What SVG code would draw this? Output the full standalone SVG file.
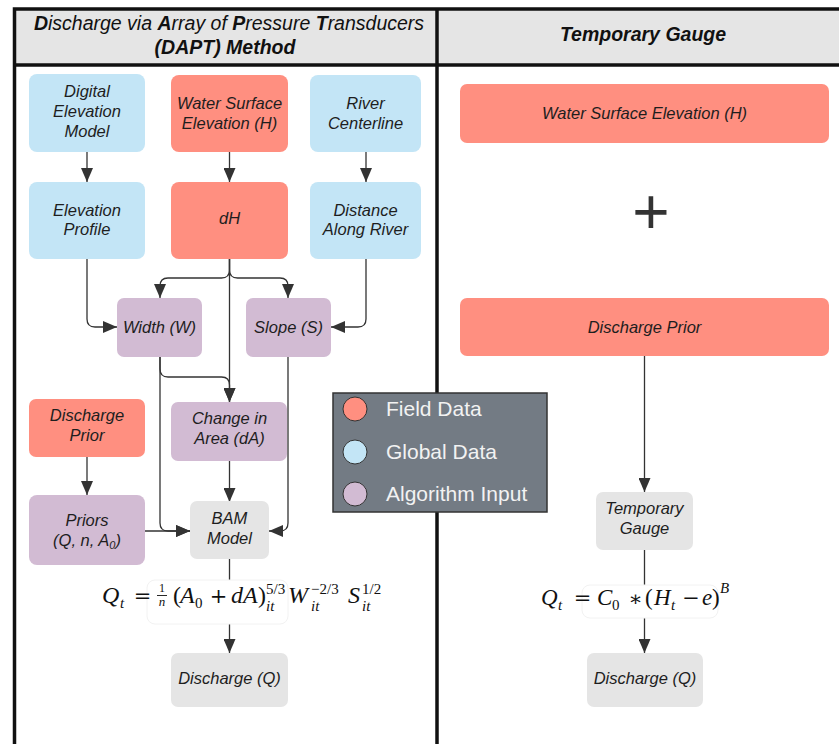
<svg xmlns="http://www.w3.org/2000/svg" width="839" height="744" viewBox="0 0 839 744">
<defs>
<marker id="ah" viewBox="0 0 14 12" refX="14" refY="6" markerWidth="14" markerHeight="12" markerUnits="userSpaceOnUse" orient="auto">
<path d="M0,0 L14,6 L0,12 z" fill="#333"/>
</marker>
<style>
.n text{font-family:"Liberation Sans",Arial,sans-serif;font-style:italic;font-size:16.5px;fill:#1e1e1e;text-anchor:middle}
.field{fill:#ff8f80}
.glob{fill:#c3e5f6}
.alg{fill:#d2bbd3}
.gray{fill:#e5e5e5}
.c path{fill:none;stroke:#333;stroke-width:1.3}
.arr{marker-end:url(#ah)}
.m{font-family:"Liberation Serif","Times New Roman",serif;font-size:24px;fill:#111}
.mi{font-style:italic}
.s{font-size:15px}
.op{font-family:"DejaVu Serif",serif;font-size:21px}
.lg{font-family:"Liberation Sans",Arial,sans-serif;font-size:21px;fill:#f2f2f2}
</style>
</defs>
<rect width="839" height="744" fill="#fff"/>
<!-- header -->
<rect x="14" y="9" width="825" height="56" fill="#e5e5e5"/>
<g fill="none" stroke="#111" stroke-width="3.5">
<path d="M14.5,744 V9 H839"/>
<path d="M14,65 H839"/>
<path d="M437,9 V744"/>
</g>
<text x="229" y="30" font-family="Liberation Sans,Arial,sans-serif" font-size="19.5" font-style="italic" text-anchor="middle" fill="#111"><tspan font-weight="bold">D</tspan>ischarge via <tspan font-weight="bold">A</tspan>rray of <tspan font-weight="bold">P</tspan>ressure <tspan font-weight="bold">T</tspan>ransducers</text>
<text x="225" y="54" font-family="Liberation Sans,Arial,sans-serif" font-size="19.5" font-style="italic" font-weight="bold" text-anchor="middle" fill="#111">(DAPT) Method</text>
<text x="643" y="41" font-family="Liberation Sans,Arial,sans-serif" font-size="19.5" font-style="italic" font-weight="bold" text-anchor="middle" fill="#111">Temporary Gauge</text>

<!-- connectors -->
<g class="c" id="connectors">
<path class="arr" d="M87,152 V182"/>
<path class="arr" d="M229.5,152 V182"/>
<path class="arr" d="M366,152 V182"/>
<path class="arr" d="M87,259 V319 Q87,327 95,327 H117"/>
<path class="arr" d="M366,259 V319 Q366,327 358,327 H331"/>
<path class="arr" d="M229.5,259 V270 Q229.5,278 221.5,278 H168 Q160,278 160,286 V298"/>
<path class="arr" d="M229.5,259 V270 Q229.5,278 237.5,278 H280 Q288,278 288,286 V298"/>
<path class="arr" d="M229.5,259 V402"/>
<path class="arr" d="M160,357 V369 Q160,377 168,377 H221.5 Q229.5,377 229.5,385 V402"/>
<path class="arr" d="M160,357 V523 Q160,531 168,531 H190"/>
<path class="arr" d="M145,531 H190"/>
<path class="arr" d="M288,357 V523 Q288,531 280,531 H269"/>
<path class="arr" d="M229.5,461 V502"/>
<path class="arr" d="M87,457 V495"/>
<path d="M229.5,559 V580"/>
<path class="arr" d="M229.5,624 V653"/>
<path class="arr" d="M644.5,356 V492"/>
<path d="M644.5,550 V585"/>
<path class="arr" d="M644.5,618 V653"/>
</g>

<!-- left nodes -->
<g class="n" id="dem"><rect class="glob" x="29" y="74" width="116" height="78" rx="8"/><text x="87" y="97">Digital</text><text x="87" y="117">Elevation</text><text x="87" y="137">Model</text></g>
<g class="n" id="wse"><rect class="field" x="171" y="75" width="117" height="77" rx="8"/><text x="229.5" y="109">Water Surface</text><text x="229.5" y="129">Elevation (H)</text></g>
<g class="n" id="rcl"><rect class="glob" x="310" y="75" width="111" height="77" rx="8"/><text x="365.5" y="109">River</text><text x="365.5" y="129">Centerline</text></g>
<g class="n" id="ep"><rect class="glob" x="29" y="182" width="116" height="77" rx="8"/><text x="87" y="216">Elevation</text><text x="87" y="235">Profile</text></g>
<g class="n" id="dh"><rect class="field" x="171" y="182" width="117" height="77" rx="8"/><text x="229.5" y="224">dH</text></g>
<g class="n" id="dar"><rect class="glob" x="310" y="182" width="111" height="77" rx="8"/><text x="365.5" y="216">Distance</text><text x="365.5" y="235">Along River</text></g>
<g class="n" id="width"><rect class="alg" x="117" y="298" width="85" height="59" rx="7"/><text x="159.5" y="333">Width (W)</text></g>
<g class="n" id="slope"><rect class="alg" x="246" y="298" width="85" height="59" rx="7"/><text x="288.5" y="333">Slope (S)</text></g>
<g class="n" id="dpl"><rect class="field" x="29" y="399" width="116" height="58" rx="7"/><text x="87" y="421">Discharge</text><text x="87" y="441">Prior</text></g>
<g class="n" id="da"><rect class="alg" x="171" y="402" width="116" height="59" rx="7"/><text x="229.5" y="424">Change in</text><text x="229.5" y="444">Area (dA)</text></g>
<g class="n" id="priors"><rect class="alg" x="29" y="495" width="116" height="70" rx="8"/><text x="87" y="526">Priors</text><text x="87" y="546">(Q, n, A<tspan font-size="11" dy="3">0</tspan><tspan dy="-3">)</tspan></text></g>
<g class="n" id="bam"><rect class="gray" x="190" y="501" width="79" height="58" rx="7"/><text x="229.5" y="524">BAM</text><text x="229.5" y="544">Model</text></g>
<g id="fl"><rect x="147" y="580" width="141" height="44" rx="8" fill="#fff" stroke="#f2f2f2"/>
<g class="m">
<text x="102" y="603" class="mi">Q</text><text x="120" y="608" class="mi s">t</text>
<text x="142.5" y="603" class="op" text-anchor="middle">=</text>
<text x="162" y="591.5" text-anchor="middle" font-size="12">1</text>
<path d="M157,595.5 H167" stroke="#111" stroke-width="0.9"/>
<text x="162" y="606" class="mi" text-anchor="middle" font-size="13">n</text>
<text x="173" y="603">(</text><text x="180" y="603" class="mi">A</text>
<text x="195" y="608" class="s">0</text>
<text x="218.5" y="603" class="op" text-anchor="middle">+</text>
<text x="231" y="603" class="mi">dA</text><text x="258" y="603">)</text>
<text x="266" y="594" class="s">5/3</text><text x="266" y="611" class="mi s">it</text>
<text x="288" y="603" class="mi">W</text>
<text x="311" y="594" class="s">−2/3</text><text x="311" y="611" class="mi s">it</text>
<text x="348" y="603" class="mi">S</text>
<text x="362" y="594" class="s">1/2</text><text x="362" y="611" class="mi s">it</text>
</g></g>
<g class="n" id="dq"><rect class="gray" x="171" y="653" width="117" height="54" rx="7"/><text x="229.5" y="684">Discharge (Q)</text></g>

<!-- right nodes -->
<g class="n" id="wse2"><rect class="field" x="460" y="84" width="369" height="59" rx="7"/><text x="644.5" y="119">Water Surface Elevation (H)</text></g>
<text x="651" y="234" font-family="Liberation Sans,Arial,sans-serif" font-size="64" fill="#333" text-anchor="middle">+</text>
<g class="n" id="dp2"><rect class="field" x="460" y="298" width="369" height="58" rx="7"/><text x="644.5" y="333">Discharge Prior</text></g>
<g class="n" id="tg"><rect class="gray" x="596" y="492" width="97" height="58" rx="7"/><text x="644.5" y="514" font-size="16">Temporary</text><text x="644.5" y="534" font-size="16">Gauge</text></g>
<g id="fr"><rect x="582" y="585" width="136" height="33" rx="8" fill="#fff" stroke="#f2f2f2"/>
<g class="m" font-size="23">
<text x="541" y="605" class="mi" font-size="23">Q</text><text x="558" y="610" class="mi s">t</text>
<text x="582.5" y="605" class="op" text-anchor="middle">=</text>
<text x="597" y="605" class="mi" font-size="23">C</text><text x="612" y="610" class="s">0</text>
<text x="635.5" y="606" class="op" text-anchor="middle" font-size="23">∗</text>
<text x="645" y="605" font-size="23">(</text><text x="654" y="605" class="mi" font-size="23">H</text><text x="671" y="610" class="mi s">t</text>
<text x="691" y="605" class="op" text-anchor="middle">−</text>
<text x="702" y="605" class="mi" font-size="23">e</text><text x="712" y="605" font-size="23">)</text>
<text x="720" y="593" class="mi s">B</text>
</g></g>
<g class="n" id="dq2"><rect class="gray" x="587" y="653" width="116" height="54" rx="7"/><text x="645" y="684">Discharge (Q)</text></g>

<!-- legend -->
<g id="legend">
<rect x="333" y="393" width="214" height="119" fill="#737b84" stroke="#333" stroke-width="1.5"/>
<circle cx="355" cy="409" r="12" class="field" stroke="#333"/>
<circle cx="355" cy="452" r="12" class="glob" stroke="#333"/>
<circle cx="355" cy="494" r="12" class="alg" stroke="#333"/>
<text x="386" y="416" class="lg">Field Data</text>
<text x="386" y="459" class="lg">Global Data</text>
<text x="386" y="501" class="lg">Algorithm Input</text>
</g>
</svg>
